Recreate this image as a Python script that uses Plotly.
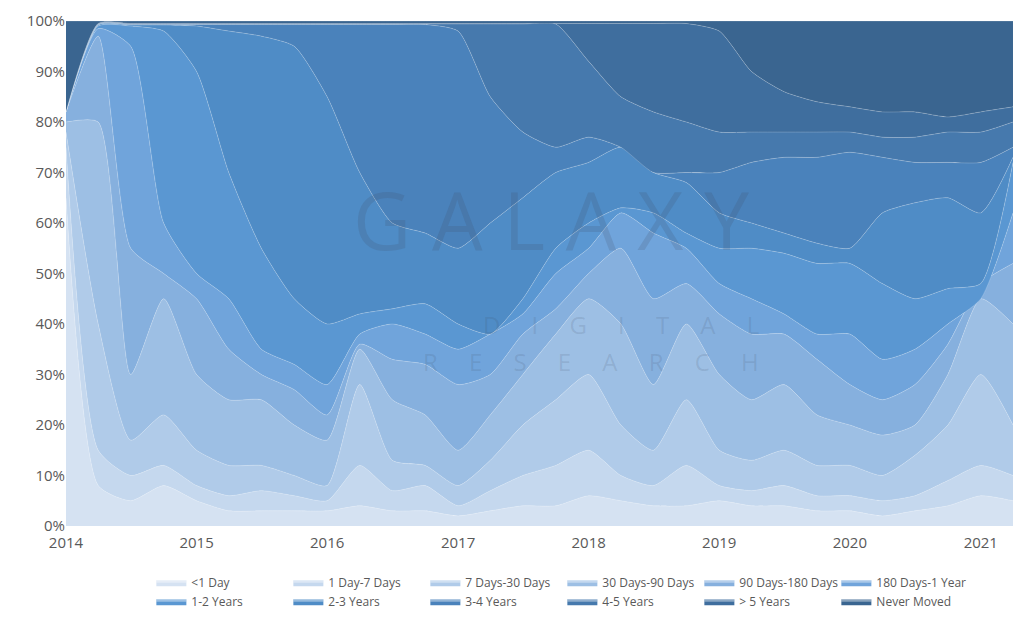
import plotly.graph_objects as go
import pandas as pd

dates = pd.date_range("2014-01-01", periods=30, freq="QS").strftime("%Y-%m-%d").tolist()
names = ["<1 Day","1 Day-7 Days","7 Days-30 Days","30 Days-90 Days","90 Days-180 Days","180 Days-1 Year",
         "1-2 Years","2-3 Years","3-4 Years","4-5 Years","> 5 Years","Never Moved"]
colors = ["#d5e2f2","#c5d8ee","#b0cbe9","#9dbfe4","#86b0de","#70a4db",
          "#5a97d2","#4f8cc6","#4a82bb","#4679ad","#3f6e9e","#3a6590"]

# cumulative top of each band (%)
top_lt1d   = [65,8,5,8,5,3,3,3,3,4,3,3,2,3,4,4,6,5,4,4,5,4,4,3,3,2,3,4,6,5]
top_1d7d   = [75,15,10,12,8,6,7,6,5,12,7,8,4,7,10,12,15,10,8,12,8,7,8,6,6,5,6,9,12,10]
top_7d30d  = [78,40,17,22,15,12,12,10,8,28,13,12,8,13,20,25,30,20,15,25,15,13,15,12,12,10,14,20,30,20]
top_30d90d = [80,80,30,45,30,25,25,20,17,35,25,22,15,22,30,38,45,40,28,40,30,25,28,22,20,18,20,30,45,40]
top_90d180d= [82,97,55,50,45,35,30,27,22,36,33,32,28,30,38,43,50,55,45,48,42,38,38,33,28,25,28,36,48,52]
top_180d1y = [82,98.5,95,60,50,45,35,32,28,38,40,38,35,38,42,50,55,62,58,55,48,45,42,38,38,33,35,40,45,62]
top_1y2y   = [82,99,99,98,90,70,55,45,40,42,43,44,40,38,45,55,60,63,62,58,55,55,54,52,52,48,45,47,48,72]
top_2y3y   = [82,99.2,99.2,99.2,99,98,97,95,85,70,60,58,55,60,65,70,72,75,70,68,62,60,58,56,55,62,64,65,62,73]
top_3y4y   = [82,99.3,99.3,99.3,99.3,99.3,99.3,99.3,99.3,99.3,99.3,99.3,98,85,78,75,77,75,70,70,70,72,73,73,74,73,72,72,72,75]
top_4y5y   = [82,99.4,99.4,99.4,99.4,99.4,99.4,99.4,99.4,99.4,99.4,99.4,99.4,99.4,99.4,99.4,92,85,82,80,78,78,78,78,78,77,77,78,78,80]
top_gt5y   = [82]+[99.5]*19+[98,90,86,84,83,82,82,81,82,83]
top_never  = [100]*30

tops = [top_lt1d,top_1d7d,top_7d30d,top_30d90d,top_90d180d,top_180d1y,
        top_1y2y,top_2y3y,top_3y4y,top_4y5y,top_gt5y,top_never]

fig = go.Figure()
prev = [0]*30
for n, c, t in zip(names, colors, tops):
    vals = [a-b for a, b in zip(t, prev)]
    prev = t
    fig.add_trace(go.Scatter(x=dates, y=vals, name=n, stackgroup="s", mode="lines",
                             line=dict(width=0.5, color="rgba(255,255,255,0.4)", shape="spline", smoothing=0.6),
                             fillcolor=c, hoverinfo="skip"))

fig.add_annotation(text="G A L A X Y", x=0.72, y=0.72, xref="paper", yref="paper", showarrow=False,
                   font=dict(size=80, color="rgba(60,70,90,0.16)", family="Open Sans"))
fig.add_annotation(text="D     I     G     I     T     A     L", x=0.73, y=0.4, xref="paper", yref="paper", showarrow=False,
                   font=dict(size=24, color="rgba(60,70,90,0.14)", family="Open Sans"))
fig.add_annotation(text="R     E     S     E     A     R     C     H", x=0.73, y=0.29, xref="paper", yref="paper", showarrow=False,
                   font=dict(size=24, color="rgba(60,70,90,0.14)", family="Open Sans"))

fig.update_layout(
    width=1024, height=622, paper_bgcolor="white", plot_bgcolor="white",
    margin=dict(l=58, r=14, t=13, b=104, autoexpand=False),
    font=dict(family="Open Sans, DejaVu Sans", color="#595959", size=15),
    xaxis=dict(range=["2014-01-01","2021-04-15"], showgrid=False, tickformat="%Y", dtick="M12",
               ticks="", showline=False, ticklabelstandoff=6),
    yaxis=dict(range=[0,100], ticksuffix="%", dtick=10, showgrid=False, ticks="", showline=False),
    legend=dict(orientation="h", x=0.14, y=0.1, xref="container", yref="container",
                xanchor="left", yanchor="top",
                entrywidth=92, font=dict(size=12), itemsizing="constant", traceorder="normal",
                itemwidth=30, tracegroupgap=12),
)
fig.write_html("out.html")
